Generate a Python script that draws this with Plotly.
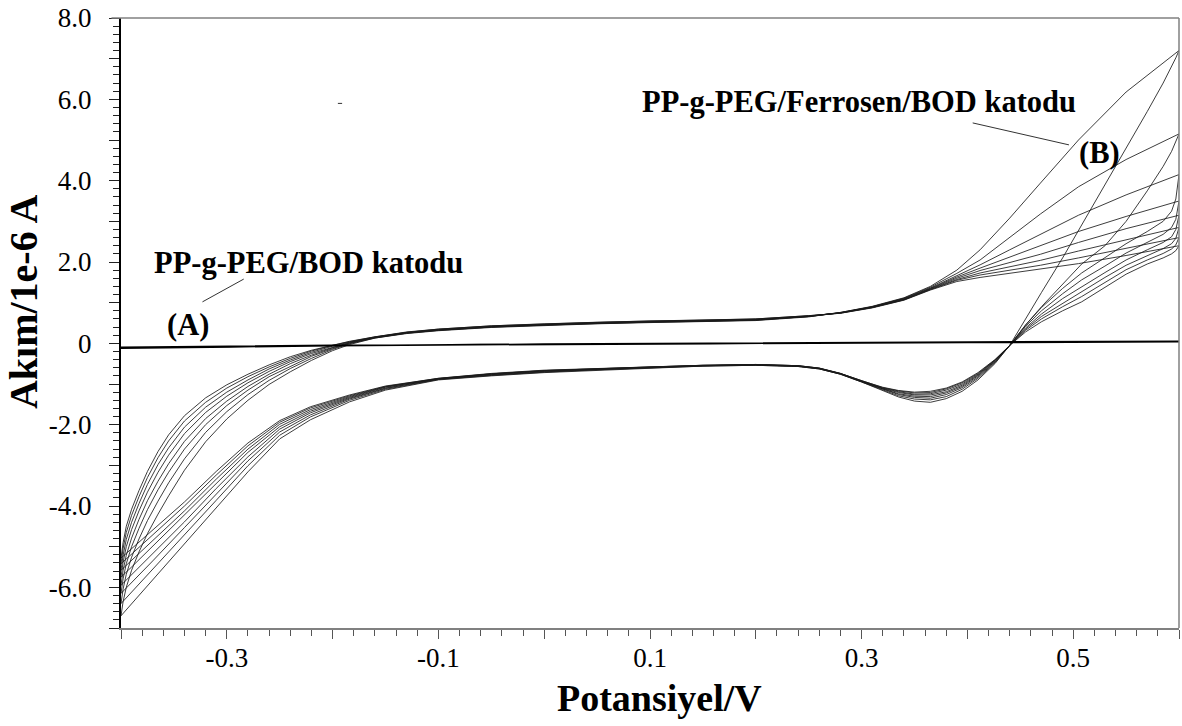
import plotly.graph_objects as go

# Potential grids (V) for the anodic (forward) and cathodic (reverse) sweeps
E_FWD = [-0.400, -0.398, -0.395, -0.390, -0.383, -0.375, -0.365, -0.355, -0.340, -0.320,
         -0.300, -0.280, -0.260, -0.240, -0.220, -0.200, -0.184, -0.160, -0.130, -0.100,
         -0.050, 0.000, 0.050, 0.100, 0.150, 0.200, 0.250, 0.280, 0.310, 0.340,
         0.365, 0.390, 0.412, 0.440, 0.469, 0.505, 0.550, 0.600]

E_REV = [0.600, 0.597, 0.593, 0.585, 0.570, 0.550, 0.530, 0.508, 0.490, 0.470,
         0.455, 0.440, 0.426, 0.410, 0.395, 0.380, 0.365, 0.350, 0.335, 0.320,
         0.300, 0.280, 0.260, 0.240, 0.200, 0.150, 0.100, 0.050, 0.000, -0.050,
         -0.100, -0.150, -0.184, -0.221, -0.250, -0.280, -0.310, -0.340, -0.370, -0.390,
         -0.400]

# Current (1e-6 A), PP-g-PEG/Ferrosen/BOD cathode, cycles 1-8, forward sweep
fwd_c1 = [-6.70, -6.35, -6.00, -5.58, -5.13, -4.68, -4.20, -3.75, -3.12, -2.42,
          -1.86, -1.40, -1.01, -0.70, -0.42, -0.18, -0.03, 0.13, 0.24, 0.31,
          0.39, 0.44, 0.48, 0.51, 0.53, 0.56, 0.65, 0.76, 0.91, 1.12,
          1.40, 1.80, 2.30, 3.08, 3.94, 5.00, 6.18, 7.20]
fwd_c2 = [-6.40, -6.04, -5.68, -5.26, -4.81, -4.36, -3.88, -3.43, -2.84, -2.19,
          -1.68, -1.26, -0.91, -0.62, -0.37, -0.15, -0.01, 0.13, 0.25, 0.32,
          0.40, 0.45, 0.49, 0.52, 0.54, 0.57, 0.66, 0.76, 0.90, 1.11,
          1.38, 1.72, 2.05, 2.60, 3.18, 3.85, 4.52, 5.15]
fwd_c3 = [-6.15, -5.79, -5.42, -5.00, -4.55, -4.09, -3.60, -3.17, -2.60, -2.00,
          -1.53, -1.15, -0.82, -0.56, -0.32, -0.13, 0.00, 0.14, 0.25, 0.32,
          0.40, 0.45, 0.49, 0.52, 0.54, 0.57, 0.66, 0.75, 0.90, 1.10,
          1.36, 1.67, 1.93, 2.30, 2.68, 3.15, 3.65, 4.15]
fwd_c4 = [-5.95, -5.58, -5.21, -4.79, -4.33, -3.87, -3.39, -2.96, -2.41, -1.85,
          -1.42, -1.06, -0.76, -0.50, -0.29, -0.11, 0.01, 0.14, 0.26, 0.33,
          0.41, 0.46, 0.50, 0.53, 0.55, 0.58, 0.66, 0.75, 0.89, 1.09,
          1.35, 1.63, 1.85, 2.12, 2.39, 2.75, 3.12, 3.50]
fwd_c5 = [-5.75, -5.38, -5.00, -4.58, -4.12, -3.66, -3.17, -2.75, -2.22, -1.70,
          -1.30, -0.97, -0.69, -0.45, -0.25, -0.09, 0.02, 0.15, 0.26, 0.33,
          0.41, 0.46, 0.50, 0.53, 0.55, 0.58, 0.67, 0.75, 0.89, 1.08,
          1.34, 1.60, 1.79, 1.99, 2.19, 2.48, 2.82, 3.15]
fwd_c6 = [-5.58, -5.21, -4.82, -4.40, -3.94, -3.47, -2.98, -2.57, -2.06, -1.57,
          -1.20, -0.90, -0.63, -0.41, -0.22, -0.07, 0.03, 0.15, 0.27, 0.34,
          0.42, 0.47, 0.51, 0.54, 0.56, 0.59, 0.67, 0.75, 0.88, 1.07,
          1.33, 1.57, 1.73, 1.89, 2.04, 2.27, 2.55, 2.85]
fwd_c7 = [-5.42, -5.04, -4.65, -4.23, -3.77, -3.30, -2.81, -2.40, -1.91, -1.45,
          -1.10, -0.82, -0.58, -0.37, -0.19, -0.05, 0.04, 0.16, 0.27, 0.35,
          0.43, 0.48, 0.52, 0.55, 0.57, 0.60, 0.68, 0.74, 0.88, 1.07,
          1.32, 1.55, 1.68, 1.80, 1.92, 2.10, 2.34, 2.60]
fwd_c8 = [-5.28, -4.90, -4.50, -4.08, -3.62, -3.15, -2.66, -2.25, -1.78, -1.34,
          -1.02, -0.76, -0.53, -0.33, -0.17, -0.04, 0.05, 0.16, 0.28, 0.35,
          0.43, 0.48, 0.52, 0.55, 0.57, 0.60, 0.68, 0.74, 0.87, 1.06,
          1.31, 1.52, 1.62, 1.72, 1.82, 1.96, 2.16, 2.40]

# Reverse sweep, cycles 1-8
rev_c1 = [7.20, 7.02, 6.80, 6.40, 5.70, 4.80, 3.90, 2.90, 2.10, 1.25,
          0.60, -0.05, -0.50, -0.90, -1.18, -1.36, -1.45, -1.42, -1.32, -1.16,
          -0.95, -0.76, -0.63, -0.57, -0.54, -0.56, -0.61, -0.66, -0.72, -0.80,
          -0.90, -1.15, -1.44, -1.88, -2.35, -3.16, -4.05, -4.93, -5.82, -6.40,
          -6.70]
rev_c2 = [5.15, 4.95, 4.72, 4.35, 3.75, 3.00, 2.40, 1.95, 1.45, 0.90,
          0.45, -0.05, -0.48, -0.86, -1.13, -1.31, -1.39, -1.37, -1.29, -1.14,
          -0.95, -0.76, -0.63, -0.57, -0.54, -0.56, -0.60, -0.65, -0.71, -0.79,
          -0.89, -1.13, -1.40, -1.81, -2.26, -3.01, -3.86, -4.71, -5.56, -6.12,
          -6.40]
rev_c3 = [4.15, 3.55, 3.25, 3.00, 2.75, 2.45, 2.10, 1.73, 1.35, 0.88,
          0.45, -0.05, -0.46, -0.83, -1.09, -1.26, -1.35, -1.33, -1.26, -1.13,
          -0.94, -0.75, -0.62, -0.56, -0.53, -0.55, -0.60, -0.65, -0.70, -0.78,
          -0.88, -1.11, -1.37, -1.76, -2.18, -2.89, -3.70, -4.53, -5.35, -5.88,
          -6.15]
rev_c4 = [3.50, 3.05, 2.85, 2.68, 2.48, 2.22, 1.90, 1.56, 1.22, 0.80,
          0.42, -0.05, -0.45, -0.80, -1.06, -1.22, -1.31, -1.30, -1.24, -1.12,
          -0.94, -0.75, -0.62, -0.56, -0.53, -0.55, -0.59, -0.64, -0.69, -0.77,
          -0.88, -1.10, -1.35, -1.71, -2.11, -2.79, -3.57, -4.39, -5.18, -5.69,
          -5.95]
rev_c5 = [3.15, 2.80, 2.62, 2.48, 2.30, 2.05, 1.74, 1.39, 1.10, 0.72,
          0.38, -0.05, -0.43, -0.78, -1.03, -1.19, -1.27, -1.27, -1.21, -1.11,
          -0.93, -0.75, -0.62, -0.56, -0.53, -0.55, -0.59, -0.64, -0.68, -0.76,
          -0.87, -1.08, -1.33, -1.67, -2.05, -2.68, -3.45, -4.24, -5.00, -5.50,
          -5.75]
rev_c6 = [2.85, 2.58, 2.45, 2.33, 2.16, 1.92, 1.62, 1.27, 1.00, 0.66,
          0.35, -0.05, -0.42, -0.76, -1.00, -1.15, -1.24, -1.25, -1.19, -1.10,
          -0.93, -0.74, -0.61, -0.55, -0.52, -0.54, -0.58, -0.63, -0.67, -0.75,
          -0.87, -1.07, -1.31, -1.63, -1.99, -2.60, -3.34, -4.12, -4.86, -5.33,
          -5.58]
rev_c7 = [2.60, 2.42, 2.32, 2.21, 2.05, 1.81, 1.50, 1.15, 0.90, 0.60,
          0.32, -0.05, -0.41, -0.74, -0.97, -1.12, -1.21, -1.22, -1.17, -1.09,
          -0.92, -0.74, -0.61, -0.55, -0.52, -0.54, -0.58, -0.63, -0.67, -0.75,
          -0.86, -1.06, -1.29, -1.59, -1.94, -2.52, -3.24, -4.00, -4.72, -5.18,
          -5.42]
rev_c8 = [2.40, 2.28, 2.20, 2.10, 1.95, 1.70, 1.38, 1.02, 0.80, 0.53,
          0.28, -0.05, -0.40, -0.72, -0.95, -1.10, -1.18, -1.20, -1.16, -1.08,
          -0.92, -0.74, -0.61, -0.55, -0.52, -0.54, -0.58, -0.62, -0.66, -0.74,
          -0.86, -1.05, -1.27, -1.56, -1.90, -2.45, -3.15, -3.90, -4.60, -5.05,
          -5.28]

# PP-g-PEG/BOD cathode (A): almost flat response
E_A = [-0.40, -0.20, 0.00, 0.20, 0.40, 0.60]
I_A_fwd = [-0.12, -0.06, -0.02, 0.01, 0.03, 0.05]
I_A_rev = [-0.10, -0.05, -0.02, 0.00, 0.02, 0.04]

# Axis ticks
X_TICKS = [-0.4, -0.3, -0.2, -0.1, 0.0, 0.1, 0.2, 0.3, 0.4, 0.5, 0.6]
X_LABELS = ["", "-0.3", "", "-0.1", "", "0.1", "", "0.3", "", "0.5", ""]
Y_TICKS = [-7, -6, -5, -4, -3, -2, -1, 0, 1, 2, 3, 4, 5, 6, 7, 8]
Y_LABELS = ["", "-6.0", "", "-4.0", "", "-2.0", "", "0", "", "2.0", "", "4.0", "", "6.0", "", "8.0"]

FWD = [fwd_c1, fwd_c2, fwd_c3, fwd_c4, fwd_c5, fwd_c6, fwd_c7, fwd_c8]
REV = [rev_c1, rev_c2, rev_c3, rev_c4, rev_c5, rev_c6, rev_c7, rev_c8]

SERIF = "Liberation Serif, Times New Roman, serif"

fig = go.Figure()

for f, r in zip(FWD, REV):
    fig.add_trace(go.Scatter(
        x=E_FWD + E_REV, y=f + r, mode="lines",
        line=dict(color="#1a1a1a", width=0.85), hoverinfo="skip", showlegend=False))

fig.add_trace(go.Scatter(
    x=E_A + E_A[::-1], y=I_A_fwd + I_A_rev[::-1], mode="lines",
    line=dict(color="#000000", width=1.6), hoverinfo="skip", showlegend=False))

fig.update_layout(
    width=1182, height=726,
    margin=dict(l=121, r=3, t=15, b=98),
    paper_bgcolor="white", plot_bgcolor="white",
    font=dict(family=SERIF, color="black"),
    xaxis=dict(
        range=[-0.4, 0.6], tickvals=X_TICKS, ticktext=X_LABELS,
        ticks="outside", ticklen=9, tickwidth=1.2, tickcolor="#555555",
        showline=True, linecolor="#808080", linewidth=2,
        showgrid=False, zeroline=False, ticklabelstandoff=-4,
        tickfont=dict(family=SERIF, size=27, color="black"),
        minor=dict(dtick=0.02, tick0=-0.4, ticks="outside", ticklen=6,
                   tickwidth=1, tickcolor="#555555", showgrid=False),
    ),
    yaxis=dict(
        range=[-7, 8], tickvals=Y_TICKS, ticktext=Y_LABELS,
        ticks="outside", ticklen=10, tickwidth=1.2, tickcolor="#222222",
        showline=True, linecolor="#000000", linewidth=2,
        showgrid=False, zeroline=False, ticklabelstandoff=12,
        tickfont=dict(family=SERIF, size=27, color="black"),
        minor=dict(dtick=0.2, tick0=-7, ticks="outside", ticklen=6,
                   tickwidth=1, tickcolor="#222222", showgrid=False),
    ),
)

# gray frame on the top and right sides
fig.add_shape(type="line", xref="paper", yref="paper", x0=-0.009, x1=1, y0=1, y1=1,
              line=dict(color="#808080", width=1.5))
fig.add_shape(type="line", xref="paper", yref="paper", x0=1, x1=1, y0=0, y1=1,
              line=dict(color="#808080", width=1.5))

# axis titles
fig.add_annotation(text="<b>Potansiyel/V</b>", xref="paper", yref="paper",
                   x=0.509, y=-0.114, showarrow=False, xanchor="center", yanchor="middle",
                   font=dict(family=SERIF, size=38, color="black"))
fig.add_annotation(text="<b>Akım/1e-6 A</b>", xref="paper", yref="paper",
                   x=-0.0922, y=0.535, showarrow=False, textangle=-90,
                   xanchor="center", yanchor="middle",
                   font=dict(family=SERIF, size=40, color="black"))

# curve labels with leader lines
LABEL_FONT = dict(family=SERIF, size=30.5, color="black")
fig.add_annotation(text="<b>PP-g-PEG/BOD katodu</b>", x=-0.371, y=1.98, xanchor="left",
                   yanchor="middle", showarrow=False, font=LABEL_FONT)
fig.add_annotation(text="<b>(A)</b>", x=-0.337, y=0.44, showarrow=False, font=LABEL_FONT)
fig.add_shape(type="line", x0=-0.323, y0=1.02, x1=-0.284, y1=1.58,
              line=dict(color="#333333", width=1))
fig.add_annotation(text="<b>PP-g-PEG/Ferrosen/BOD katodu</b>", x=0.0906, y=5.93, xanchor="left",
                   yanchor="middle", showarrow=False, font=LABEL_FONT)
fig.add_annotation(text="<b>(B)</b>", x=0.5253, y=4.68, showarrow=False, font=LABEL_FONT)
fig.add_shape(type="line", x0=0.405, y0=5.42, x1=0.496, y1=4.88,
              line=dict(color="#333333", width=1))
fig.add_shape(type="line", x0=-0.195, y0=5.9, x1=-0.191, y1=5.9,
              line=dict(color="#333333", width=1))

fig.write_html("out.html")
